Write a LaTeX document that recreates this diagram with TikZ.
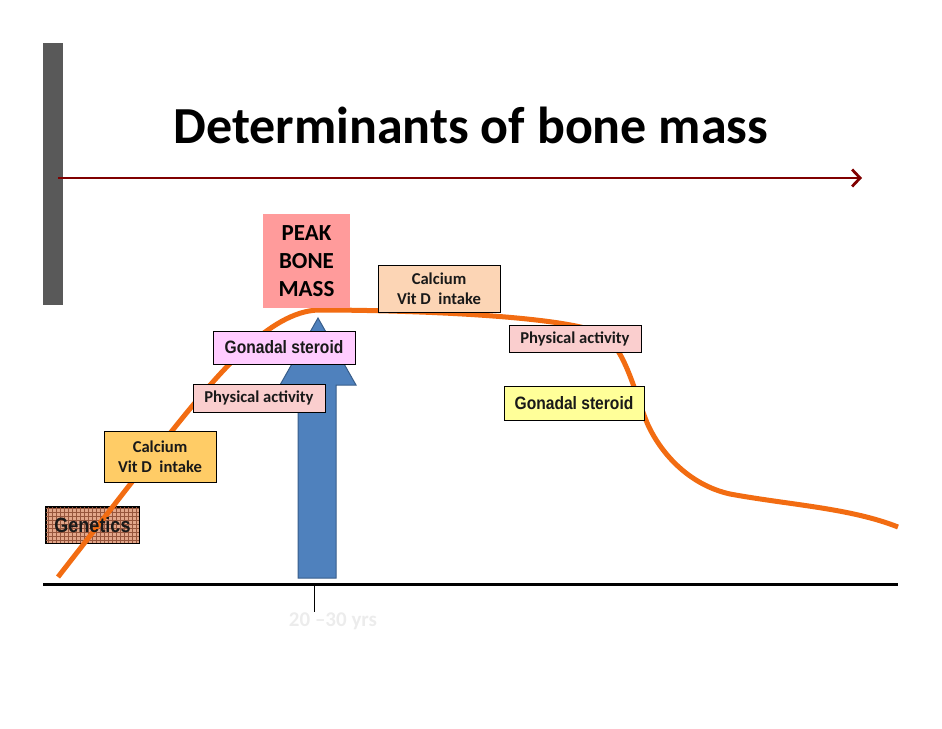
\documentclass[tikz,border=0pt]{standalone}
\usepackage{fontspec}
\setmainfont{Carlito}
\newfontfamily\arialf{Liberation Sans}
\usetikzlibrary{arrows.meta}
\definecolor{barGray}{RGB}{89,89,89}
\definecolor{darkRed}{RGB}{128,0,0}
\definecolor{curveOrange}{RGB}{242,108,18}
\definecolor{arrowBlue}{RGB}{79,129,189}
\definecolor{arrowEdge}{RGB}{56,93,138}
\definecolor{peakPink}{RGB}{255,155,155}
\definecolor{calLight}{RGB}{252,213,181}
\definecolor{calDeep}{RGB}{255,204,102}
\definecolor{physPink}{RGB}{250,206,206}
\definecolor{gonYellow}{RGB}{255,255,153}
\definecolor{gonLilac}{RGB}{255,204,255}
\definecolor{genBrown}{RGB}{226,166,138}
\definecolor{gridBrown}{RGB}{150,85,60}
\definecolor{ageGray}{RGB}{236,236,236}
\newcommand{\tallA}[1]{\scalebox{1}[1.15]{#1}}
\tikzset{
  factor/.style={draw=black,line width=0.8pt,inner sep=0pt,align=center,text=black!90},
  calfont/.style={font=\fontsize{16.6}{20}\selectfont\bfseries},
  arialbox/.style={font=\arialf\fontsize{15.6}{19}\selectfont\bfseries}
}
\begin{document}
\begin{tikzpicture}[x=1pt,y=-1pt]
  \useasboundingbox (0,0) rectangle (942,728);
  \fill[barGray] (43,43) rectangle (63,305);
  \node[font=\fontsize{52}{62}\selectfont\bfseries] (title) at (471,125) {Determinants of bone mass};
  \coordinate (arrStart) at (58,178); \coordinate (arrEnd) at (862,178);
  \draw[darkRed,line width=2pt,-{Straight Barb[length=8pt,width=17pt,line width=2.8pt]}] (arrStart) -- (arrEnd);

  % axis and age mark
  \coordinate (axL) at (43,584); \coordinate (axR) at (898,584);
  \draw[line width=3pt] (axL) -- (axR);
  \coordinate (tickTop) at (314,585); \coordinate (tickBot) at (314,612);
  \draw[line width=1pt] (tickTop) -- (tickBot);
  \node[font=\fontsize{21}{24}\selectfont\bfseries,text=ageGray] (age) at (333,621) {20 --30 yrs};

  % genetics box with its grid
  \node[factor,fill=genBrown,minimum width=93,minimum height=36] (gen) at (92.5,525) {};
  \begin{scope}
    \clip (gen.south west) rectangle (gen.north east);
    \draw[gridBrown,line width=0.3pt,step=4pt] (gen.south west) grid (gen.north east);
  \end{scope}
  \draw[line width=0.8pt] (gen.south west) rectangle (gen.north east);

  % bone mass curve
  \draw[curveOrange,line width=5pt] (58,577) -- (160,446)
    .. controls (220,370) and (270,312) .. (318,310)
    .. controls (400,310) and (560,315) .. (600,333)
    .. controls (625,345) and (635,395) .. (648,425)
    .. controls (662,455) and (690,485) .. (730,494)
    .. controls (790,505) and (850,508) .. (898,527);
  \node[font=\arialf\fontsize{18}{22}\selectfont\bfseries,text=black!90] (genText) at (gen) {\tallA{Genetics}};

  % peak arrow
  \filldraw[fill=arrowBlue,draw=arrowEdge,line width=1pt]
    (298,578) -- (298,385) -- (280,385) -- (318,318) -- (356,385) -- (336,385) -- (336,578) -- cycle;

  \node[fill=peakPink,minimum width=87,minimum height=94,inner sep=0pt,align=center,
        font=\fontsize{23}{28}\selectfont\bfseries] (peak) at (306.5,261) {PEAK\\BONE\\MASS};
  \node[factor,calfont,fill=calLight,minimum width=122,minimum height=47] (calR) at (439,288.5) {Calcium\\Vit D\ \ intake};
  \node[factor,calfont,fill=physPink,minimum width=132,minimum height=27] (physR) at (575,338.5) {Physical activity};
  \node[factor,arialbox,fill=gonYellow,minimum width=140,minimum height=34] (gonR) at (574,403) {\tallA{Gonadal steroid}};
  \node[factor,arialbox,fill=gonLilac,minimum width=142,minimum height=33] (gonL) at (284,347.5) {\tallA{Gonadal steroid}};
  \node[factor,calfont,fill=physPink,minimum width=132,minimum height=28] (physL) at (259,398) {Physical activity};
  \node[factor,calfont,fill=calDeep,minimum width=112,minimum height=51] (calL) at (160,456.5) {Calcium\\Vit D\ \ intake};
\end{tikzpicture}
\end{document}
